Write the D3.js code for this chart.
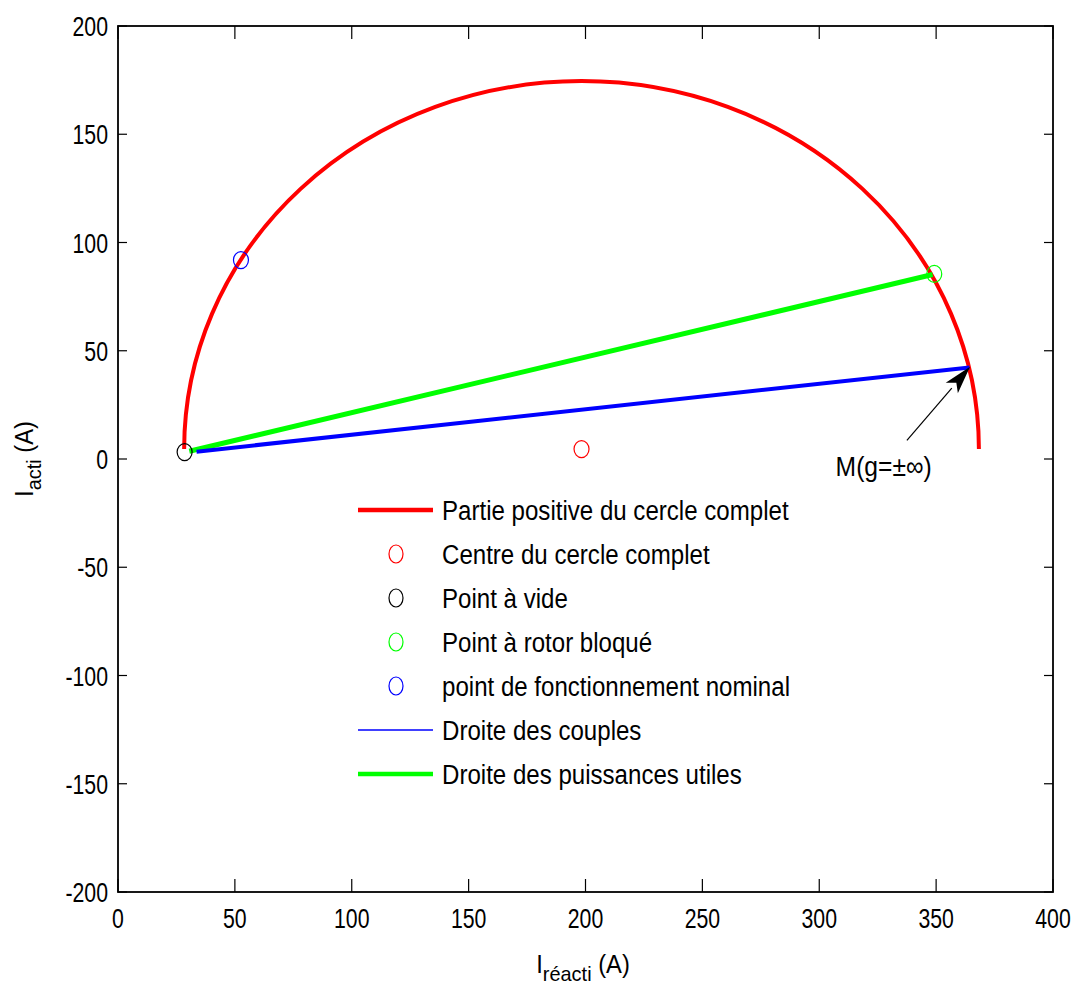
<!DOCTYPE html>
<html>
  <head>
    <meta charset="utf-8">
    <title>Diagramme du cercle</title>
    <script src="https://cdnjs.cloudflare.com/ajax/libs/d3/7.8.5/d3.min.js"></script>
    <style>
      body { margin: 0; background: #fff; }
      text { font-family: "Liberation Sans", Arial, sans-serif; fill: #000; }
    </style>
  </head>
  <body>
    <div id="chart"></div>
    <script type="text/javascript">
      // values
      var xTicks = [0, 50, 100, 150, 200, 250, 300, 350, 400];
      var yTicks = [-200, -150, -100, -50, 0, 50, 100, 150, 200];
      var centre = [198.3, 4.6];       // centre du cercle complet
      var rayon = 170;
      var pointVide = [28.5, 3.2];
      var pointBloque = [349.2, 85.5];
      var pointNominal = [52.6, 91.9];
      var droiteCouples = [[33.6, 3.4], [364.3, 42.3]];
      var droitePuissances = [[30.5, 3.6], [348.5, 85.2]];
      var flecheM = [[337.5, 8.6], [364.5, 42.6]];
      var legendItems = [
        {label: "Partie positive du cercle complet", type: "line", color: "#ff0000", width: 4.5},
        {label: "Centre du cercle complet", type: "marker", color: "#ff0000"},
        {label: "Point à vide", type: "marker", color: "#000000"},
        {label: "Point à rotor bloqué", type: "marker", color: "#00ff00"},
        {label: "point de fonctionnement nominal", type: "marker", color: "#0000ff"},
        {label: "Droite des couples", type: "line", color: "#0000ff", width: 1.5},
        {label: "Droite des puissances utiles", type: "line", color: "#00ff00", width: 4.5}
      ];

      //Width and height
      var w = 1076, h = 985;
      var pL = 118, pT = 26, pR = 1053, pB = 892;

      var x = d3.scaleLinear().domain([0, 400]).range([pL, pR]);
      var y = d3.scaleLinear().domain([-200, 200]).range([pB, pT]);

      var svg = d3.select("#chart").append("svg")
        .attr("width", w)
        .attr("height", h);

      // condensed text, like the original export
      function ntext(g, px, py, str, size, sx, anchor) {
        return g.append("text")
          .attr("transform", "translate(" + px + "," + py + ") scale(" + sx + ",1)")
          .attr("font-size", size)
          .attr("text-anchor", anchor || "start")
          .text(str);
      }

      // ticks (inside, on all four sides)
      var tk = svg.append("g").attr("stroke", "#000").attr("stroke-width", 1.2);
      xTicks.forEach(function(t) {
        tk.append("line").attr("x1", x(t)).attr("x2", x(t)).attr("y1", pB).attr("y2", pB - 13);
        tk.append("line").attr("x1", x(t)).attr("x2", x(t)).attr("y1", pT).attr("y2", pT + 13);
        ntext(svg, x(t), 928, t, 28, 0.76, "middle");
      });
      yTicks.forEach(function(t) {
        tk.append("line").attr("x1", pL).attr("x2", pL + 9).attr("y1", y(t)).attr("y2", y(t));
        tk.append("line").attr("x1", pR).attr("x2", pR - 9).attr("y1", y(t)).attr("y2", y(t));
        ntext(svg, 108, y(t) + 10, t, 28, 0.76, "end");
      });

      // box
      svg.append("rect")
        .attr("x", pL).attr("y", pT)
        .attr("width", pR - pL).attr("height", pB - pT)
        .attr("fill", "none").attr("stroke", "#000").attr("stroke-width", 1.8);

      // axis labels
      var xl = svg.append("text")
        .attr("transform", "translate(583,973) scale(0.95,1)")
        .attr("text-anchor", "middle")
        .attr("font-size", 25);
      xl.append("tspan").text("I");
      xl.append("tspan").attr("dy", 8).attr("font-size", 21).text("réacti");
      xl.append("tspan").attr("dy", -8).text(" (A)");

      var yl = svg.append("text")
        .attr("transform", "translate(33,459) rotate(-90) scale(0.95,1)")
        .attr("text-anchor", "middle")
        .attr("font-size", 25);
      yl.append("tspan").text("I");
      yl.append("tspan").attr("dy", 8).attr("font-size", 21).text("acti");
      yl.append("tspan").attr("dy", -8).text(" (A)");

      // red half circle drawn as an arc through the scales
      var rx = x(rayon) - x(0), ry = y(0) - y(rayon);
      svg.append("path")
        .attr("d", "M" + x(centre[0] + rayon) + "," + y(centre[1]) +
          " A" + rx + "," + ry + " 0 0 0 " + x(centre[0] - rayon) + "," + y(centre[1]))
        .attr("fill", "none")
        .attr("stroke", "#ff0000")
        .attr("stroke-width", 4);

      var line = d3.line().x(function(d) { return x(d[0]); }).y(function(d) { return y(d[1]); });

      svg.append("path").datum(droitePuissances)
        .attr("d", line).attr("fill", "none")
        .attr("stroke", "#00ff00").attr("stroke-width", 5);

      svg.append("path").datum(droiteCouples)
        .attr("d", line).attr("fill", "none")
        .attr("stroke", "#0000ff").attr("stroke-width", 4);

      // markers
      var pts = [
        {p: centre, c: "#ff0000"},
        {p: pointVide, c: "#000000"},
        {p: pointBloque, c: "#00ff00"},
        {p: pointNominal, c: "#0000ff"}
      ];
      svg.selectAll("ellipse.pt")
        .data(pts)
        .enter()
        .append("ellipse")
        .attr("class", "pt")
        .attr("cx", function(d) { return x(d.p[0]); })
        .attr("cy", function(d) { return y(d.p[1]); })
        .attr("rx", 7.5).attr("ry", 8.5)
        .attr("fill", "none")
        .attr("stroke", function(d) { return d.c; })
        .attr("stroke-width", 1.2);

      // annotation arrow
      var a0 = [x(flecheM[0][0]), y(flecheM[0][1])], a1 = [x(flecheM[1][0]), y(flecheM[1][1])];
      var ang = Math.atan2(a1[1] - a0[1], a1[0] - a0[0]);
      var hl = 28, hw = 8;
      var bx = a1[0] - hl * Math.cos(ang), by = a1[1] - hl * Math.sin(ang);
      svg.append("line")
        .attr("x1", a0[0]).attr("y1", a0[1]).attr("x2", bx).attr("y2", by)
        .attr("stroke", "#000").attr("stroke-width", 1.2);
      svg.append("polygon")
        .attr("points", [
          [a1[0], a1[1]],
          [bx - hw * Math.sin(ang), by + hw * Math.cos(ang)],
          [a1[0] - 0.75 * hl * Math.cos(ang), a1[1] - 0.75 * hl * Math.sin(ang)],
          [bx + hw * Math.sin(ang), by - hw * Math.cos(ang)]
        ].map(function(p) { return p.join(","); }).join(" "))
        .attr("fill", "#000");
      ntext(svg, x(307), y(-7.8), "M(g=±∞)", 28, 0.88);

      // legend
      var lg = svg.append("g");
      legendItems.forEach(function(d, i) {
        var ly = 510 + i * 44;
        if (d.type === "line") {
          lg.append("line")
            .attr("x1", 358).attr("x2", 433).attr("y1", ly).attr("y2", ly)
            .attr("stroke", d.color).attr("stroke-width", d.width);
        } else {
          lg.append("ellipse")
            .attr("cx", 396).attr("cy", ly).attr("rx", 7).attr("ry", 9)
            .attr("fill", "none").attr("stroke", d.color).attr("stroke-width", 1.2);
        }
        ntext(lg, 442, ly + 10, d.label, 28, 0.86);
      });
    </script>
  </body>
</html>
